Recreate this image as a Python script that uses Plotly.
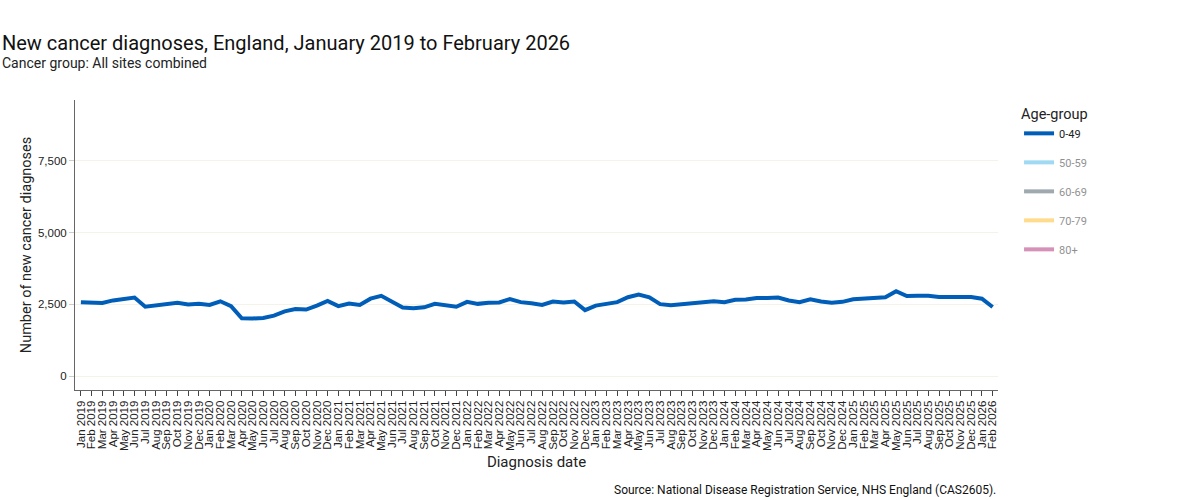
import plotly.graph_objects as go

months = ["Jan", "Feb", "Mar", "Apr", "May", "Jun", "Jul", "Aug", "Sep", "Oct", "Nov", "Dec"]
dates = [f"{m} {y}" for y in range(2019, 2026) for m in months] + ["Jan 2026", "Feb 2026"]

age_groups = ["0-49", "50-59", "60-69", "70-79", "80+"]
colors = ["#005EB8", "#41B6E6", "#425563", "#FFB81C", "#AE2573"]

diag_0_49 = [
    2580, 2570, 2550, 2640, 2690, 2740, 2420, 2470, 2520, 2560, 2500, 2520,
    2480, 2610, 2440, 2020, 2010, 2030, 2110, 2260, 2340, 2320, 2460, 2620,
    2440, 2530, 2480, 2700, 2800, 2600, 2390, 2370, 2400, 2520, 2470, 2420,
    2590, 2520, 2560, 2570, 2690, 2580, 2540, 2480, 2600, 2570, 2600, 2300,
    2460, 2520, 2580, 2750, 2840, 2750, 2510, 2470, 2500, 2540, 2580, 2610,
    2580, 2660, 2670, 2720, 2720, 2740, 2640, 2580, 2680, 2600, 2560, 2590,
    2680, 2710, 2740, 2750, 2960, 2790, 2800, 2800, 2760, 2760, 2760, 2760,
    2700, 2410,
]

y_ticks = [0, 2500, 5000, 7500]
y_tick_labels = ["0", "2,500", "5,000", "7,500"]

fig = go.Figure()
for i, (grp, col) in enumerate(zip(age_groups, colors)):
    if i == 0:
        fig.add_trace(go.Scatter(x=dates, y=diag_0_49, mode="lines", name=grp,
                                 line=dict(color=col, width=4), legendgroup=grp))
    else:
        fig.add_trace(go.Scatter(x=dates, y=[None] * len(dates), mode="lines", name=grp,
                                 line=dict(color=col, width=4), legendgroup=grp,
                                 visible="legendonly"))

fig.update_layout(
    width=1200, height=500,
    showlegend=True,
    paper_bgcolor="white", plot_bgcolor="white",
    margin=dict(l=75, r=202, t=100, b=110),
    font=dict(family="Roboto", color="#222"),
    legend=dict(title=dict(text="Age-group", font=dict(size=14.5, family="Roboto", color="#222")),
                x=1.0228, xanchor="left", y=1.0, yanchor="top",
                font=dict(size=11, family="Roboto", color="#222"),
                tracegroupgap=10, itemwidth=30),
    xaxis=dict(type="category", range=[-0.55, 85.5], automargin=False,
               tickmode="linear", tick0=0, dtick=1,
               title=dict(text="Diagnosis date", font=dict(size=15, family="Roboto", color="#222"), standoff=6),
               tickangle=-90, ticks="outside", ticklen=5, tickcolor="#444",
               tickfont=dict(family="Liberation Sans, Arial", size=11.5, color="#222"),
               showline=True, linecolor="#666", linewidth=1, showgrid=False, zeroline=False),
    yaxis=dict(range=[-480, 9620], tickvals=y_ticks, ticktext=y_tick_labels, automargin=False,
               title=dict(text="Number of new cancer diagnoses", font=dict(size=14.5, family="Roboto", color="#222"), standoff=2),
               ticks="outside", ticklen=5, tickcolor="#ccc",
               tickfont=dict(family="Liberation Sans, Arial", size=11.5, color="#222"),
               showline=True, linecolor="#666", linewidth=1,
               showgrid=True, gridcolor="#f5f2e8", zeroline=False),
    annotations=[
        dict(text="New cancer diagnoses, England, January 2019 to February 2026",
             x=-75 / 923, xref="paper", xanchor="left", y=1 + 57 / 290, yref="paper", yanchor="middle",
             showarrow=False, font=dict(size=20, family="Roboto", color="#111")),
        dict(text="Cancer group: All sites combined",
             x=-75 / 923, xref="paper", xanchor="left", y=1 + 37 / 290, yref="paper", yanchor="middle",
             showarrow=False, font=dict(size=14, family="Roboto", color="#222")),
        dict(text="Source: National Disease Registration Service, NHS England (CAS2605).",
             x=1, xref="paper", xanchor="right", y=-100 / 290, yref="paper", yanchor="middle",
             showarrow=False, font=dict(size=12, family="Roboto", color="#111")),
    ],
)

fig.write_html("out.html", config={"displayModeBar": False},
               post_script="document.body.style.margin='0';")
